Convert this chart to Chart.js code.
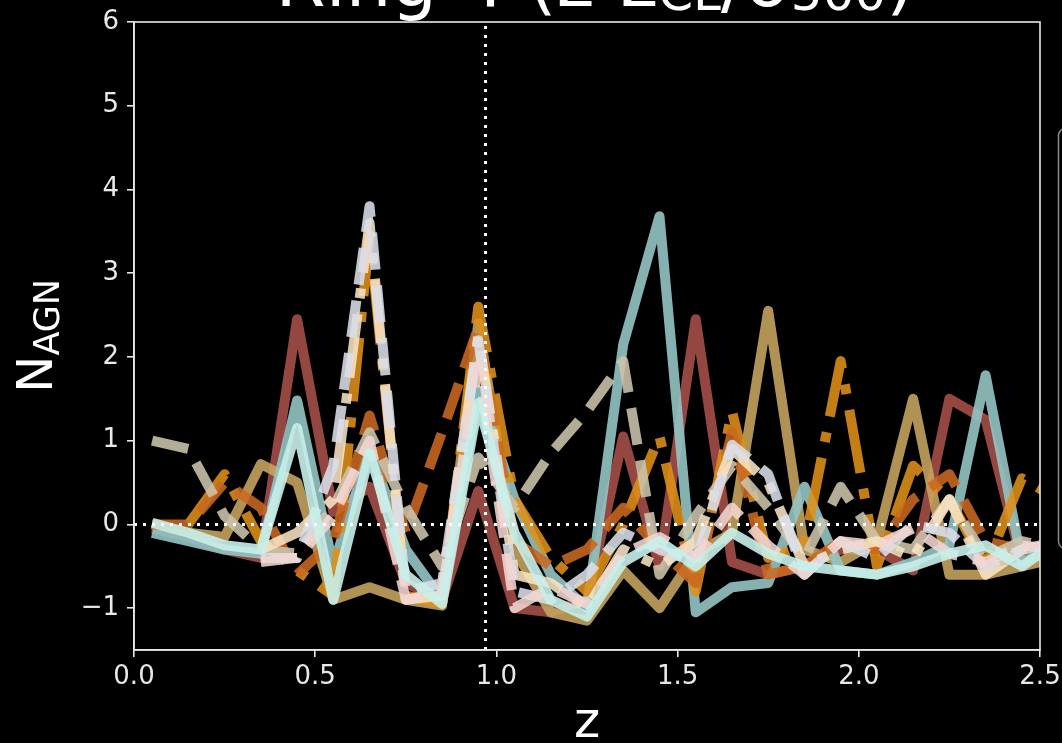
<!DOCTYPE html>
<html>
<head>
<meta charset="utf-8">
<script src="https://cdn.jsdelivr.net/npm/chart.js@4.4.1/dist/chart.umd.min.js"></script>
<style>
  html, body { margin: 0; padding: 0; background: #000; overflow: hidden; }
  #wrap { width: 1062px; height: 743px; }
</style>
</head>
<body>
<div id="wrap"><canvas id="c" width="1062" height="743"></canvas></div>
<script>
// Redshift bin centres
const zBins = [0.05, 0.15, 0.25, 0.35, 0.45, 0.55, 0.65, 0.75, 0.85, 0.95,
               1.05, 1.15, 1.25, 1.35, 1.45, 1.55, 1.65, 1.75, 1.85, 1.95,
               2.05, 2.15, 2.25, 2.35, 2.45, 2.55];
const zCluster = 0.97;
const xTickValues = [0, 0.5, 1.0, 1.5, 2.0, 2.5];
const yTickValues = [-1, 0, 1, 2, 3, 4, 5, 6];

// Excess AGN counts per bin, one array per cluster
const nBrown  = [-0.05, -0.15, -0.3, -0.4, 2.45, 0.15, 0.45, -0.7, -0.9, 0.4, -1.0, -1.05, -0.9, 1.05, -0.5, 2.45, -0.45, -0.6, -0.5, -0.3, -0.3, -0.55, 1.5, 1.25, -0.45, -0.3];
const nTan    = [0.0, -0.1, -0.15, 0.72, 0.5, -0.9, -0.75, -0.9, -0.97, 2.4, -0.3, -1.05, -1.15, -0.55, -1.0, -0.35, -0.1, 2.55, -0.3, -0.45, -0.2, 1.5, -0.6, -0.6, -0.5, -0.4];
const nTeal   = [-0.1, -0.2, -0.3, -0.35, 1.48, -0.5, 0.9, -0.3, -0.9, 1.6, 0.3, -0.6, -1.0, 2.15, 3.68, -1.05, -0.75, -0.7, 0.45, -0.55, -0.6, -0.45, -0.25, 1.78, -0.45, -0.2];
const nOrange = [null, 0.0, 0.6, -0.2, -0.55, -0.85, 3.45, -0.85, -0.95, 2.6, 0.3, -0.4, -0.8, 0.0, 1.05, -0.8, 1.35, -0.4, -0.25, 1.95, -0.5, 0.7, 0.3, -0.5, 0.55, 0.3];
const nRust   = [0.0, 0.0, 0.5, 0.2, -0.6, -0.2, 1.3, -0.1, 1.1, 2.35, -0.2, -0.5, -0.3, 0.2, -0.3, -0.7, 1.1, -0.6, -0.5, -0.2, -0.3, 0.3, 0.6, -0.2, -0.3, -0.4];
const nBeige  = [1.0, 0.9, 0.1, -0.3, -0.35, 0.2, 1.1, 0.2, -0.5, 0.8, 0.2, 0.85, 1.35, 1.95, -0.6, 0.1, 0.7, 0.2, -0.4, 0.45, -0.2, -0.3, 0.3, -0.4, -0.2, -0.3];
const nCream  = [null, null, null, -0.3, -0.1, 0.3, 3.6, -0.9, -0.85, 2.25, -0.6, -0.7, -1.0, -0.3, -0.5, -0.2, 0.9, 0.5, -0.5, -0.3, -0.2, -0.4, 0.3, -0.6, -0.3, -0.2];
const nSilver = [null, null, null, -0.4, -0.4, 0.7, 3.8, -0.8, -0.7, 2.2, -0.8, -0.9, -0.6, -0.1, -0.3, -0.45, 0.95, 0.6, -0.6, -0.2, -0.4, 0.0, -0.1, -0.5, -0.3, -0.2];
const nBlush  = [null, null, null, -0.45, -0.4, 0.1, 1.0, -0.9, -0.8, 1.9, -1.0, -0.75, -0.95, -0.35, -0.15, -0.4, 0.2, -0.25, -0.6, -0.2, -0.25, -0.05, -0.35, -0.45, -0.25, -0.3];
const nIce    = [0.02, -0.1, -0.25, -0.3, 1.15, -0.9, 0.85, -0.6, -0.95, 1.45, -0.1, -0.9, -1.1, -0.45, -0.2, -0.5, -0.1, -0.35, -0.5, -0.55, -0.6, -0.5, -0.35, -0.25, -0.5, -0.2];

const LW = 10;
const DASHED = [3.7 * LW, 1.6 * LW];
const DASHDOT = [6.4 * LW, 1.6 * LW, 1.0 * LW, 1.6 * LW];

// drawing order: first entry at the bottom, last on top
const seriesStyles = [
  { values: nBrown,  color: 'rgba(168, 80, 74, 0.88)',   dash: [] },
  { values: nTan,    color: 'rgba(200, 166, 96, 0.88)',  dash: [] },
  { values: nTeal,   color: 'rgba(148, 196, 196, 0.9)',  dash: [] },
  { values: nOrange, color: 'rgba(222, 144, 24, 0.88)',  dash: DASHDOT },
  { values: nRust,   color: 'rgba(202, 104, 32, 0.88)',  dash: DASHED },
  { values: nBeige,  color: 'rgba(204, 196, 172, 0.88)', dash: DASHED },
  { values: nCream,  color: 'rgba(248, 228, 196, 0.88)', dash: DASHDOT },
  { values: nSilver, color: 'rgba(218, 222, 232, 0.88)', dash: DASHED },
  { values: nBlush,  color: 'rgba(242, 214, 210, 0.88)', dash: DASHED },
  { values: nIce,    color: 'rgba(200, 240, 234, 0.9)',  dash: [] }
];

const datasets = seriesStyles.map((s, i) => ({
  data: zBins.map((z, k) => ({ x: z, y: s.values[k] })),
  borderColor: s.color,
  borderWidth: LW,
  borderDash: s.dash,
  borderCapStyle: 'butt',
  borderJoinStyle: 'round',
  pointRadius: 0,
  tension: 0,
  fill: false,
  clip: 0,
  order: seriesStyles.length - i + 1
}));

// reference lines: cluster redshift and zero excess
datasets.push({
  data: [{ x: zCluster, y: -1.5 }, { x: zCluster, y: 6 }],
  borderColor: '#ffffff', borderWidth: 3, borderDash: [3, 6], borderCapStyle: 'butt',
  pointRadius: 0, fill: false, clip: 0, order: 0
});
datasets.push({
  data: [{ x: 0, y: 0 }, { x: 2.5, y: 0 }],
  borderColor: '#ffffff', borderWidth: 3, borderDash: [3, 6], borderCapStyle: 'butt',
  pointRadius: 0, fill: false, clip: 0, order: 0
});

const FONT = "'DejaVu Sans', sans-serif";
const FG = '#e8e8e8';

function drawParts(ctx, parts, x, y, align) {
  let total = 0;
  parts.forEach(p => { ctx.font = p.size + 'px ' + FONT; p.w = ctx.measureText(p.text).width; total += p.w; });
  let cx = align === 'center' ? x - total / 2 : x;
  parts.forEach(p => {
    ctx.font = p.size + 'px ' + FONT;
    ctx.fillText(p.text, cx, y + (p.dy || 0));
    cx += p.w;
  });
}

const textPlugin = {
  id: 'frameAndText',
  afterDraw(chart) {
    const ctx = chart.ctx;
    const a = chart.chartArea;
    ctx.save();
    // axes box
    ctx.strokeStyle = FG;
    ctx.lineWidth = 1.6;
    ctx.strokeRect(a.left, a.top, a.right - a.left, a.bottom - a.top);

    // legend frame, running off the right edge
    ctx.strokeStyle = '#8a8a8a';
    ctx.lineWidth = 1.5;
    ctx.beginPath();
    ctx.roundRect(1058.5, 128.5, 220, 420, 7);
    ctx.stroke();

    ctx.fillStyle = '#ffffff';
    ctx.textBaseline = 'alphabetic';
    ctx.textAlign = 'left';
    // title (mostly above the canvas)
    drawParts(ctx, [
      { text: 'Ring 4 (z-z', size: 72 },
      { text: 'CL', size: 50, dy: 4 },
      { text: '/σ', size: 72 },
      { text: '500', size: 50, dy: 4 },
      { text: ')', size: 72 }
    ], (a.left + a.right) / 2 + 8, 6, 'center');

    // x axis label
    drawParts(ctx, [{ text: 'z', size: 50 }], (a.left + a.right) / 2, 737, 'center');

    // y axis label
    ctx.save();
    ctx.translate(52, (a.top + a.bottom) / 2);
    ctx.rotate(-Math.PI / 2);
    drawParts(ctx, [
      { text: 'N', size: 50 },
      { text: 'AGN', size: 35, dy: 7 }
    ], 0, 0, 'center');
    ctx.restore();
    ctx.restore();
  }
};

new Chart(document.getElementById('c'), {
  type: 'line',
  data: { datasets },
  options: {
    responsive: false,
    animation: false,
    devicePixelRatio: 1,
    layout: { padding: { left: 0, top: 22, right: 22, bottom: 0 } },
    plugins: { legend: { display: false }, tooltip: { enabled: false } },
    scales: {
      x: {
        type: 'linear', min: 0, max: 2.5,
        afterBuildTicks: s => { s.ticks = xTickValues.map(v => ({ value: v })); },
        afterFit: s => { s.height = 93; s.paddingLeft = 0; s.paddingRight = 0; },
        ticks: { color: FG, font: { family: FONT, size: 26 }, padding: 5, maxRotation: 0,
                 callback: v => Number(v).toFixed(1) },
        grid: { display: true, drawOnChartArea: false, drawTicks: true, tickLength: 7, color: FG, lineWidth: 1.6 },
        border: { display: true, color: FG, width: 1.6 }
      },
      y: {
        type: 'linear', min: -1.5, max: 6,
        afterBuildTicks: s => { s.ticks = yTickValues.map(v => ({ value: v })); },
        afterFit: s => { s.width = 134; s.paddingTop = 0; s.paddingBottom = 0; },
        ticks: { color: FG, font: { family: FONT, size: 26 }, padding: 8,
                 callback: v => String(v).replace('-', '\u2212') },
        grid: { display: true, drawOnChartArea: false, drawTicks: true, tickLength: 7, color: FG, lineWidth: 1.6 },
        border: { display: true, color: FG, width: 1.6 }
      }
    }
  },
  plugins: [textPlugin]
});
</script>
</body>
</html>
